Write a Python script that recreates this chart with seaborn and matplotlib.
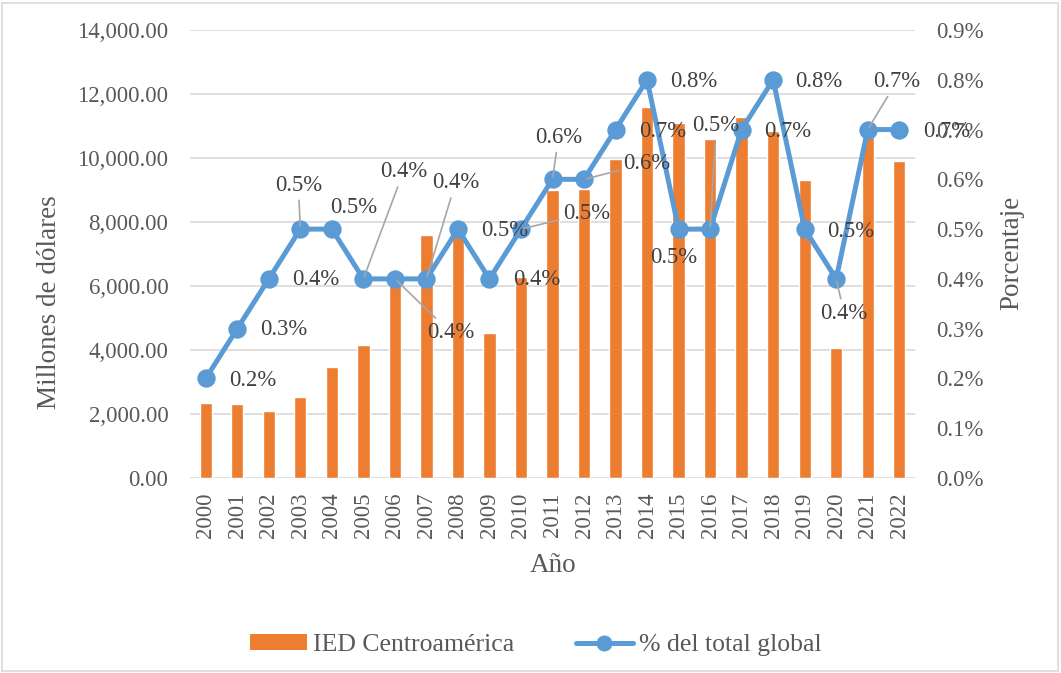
import matplotlib
matplotlib.use("Agg")
import matplotlib.pyplot as plt
import seaborn as sns
import pandas as pd
from matplotlib.patches import Patch, Rectangle
from matplotlib.lines import Line2D
from matplotlib.ticker import FuncFormatter, MultipleLocator

# ---------------- data ----------------
years = ["2000", "2001", "2002", "2003", "2004", "2005", "2006", "2007", "2008",
         "2009", "2010", "2011", "2012", "2013", "2014", "2015", "2016", "2017",
         "2018", "2019", "2020", "2021", "2022"]
ied_millones = [2353, 2312, 2083, 2521, 3458, 4146, 6062, 7604, 7560, 4542, 6292,
                9000, 9042, 9979, 11604, 11104, 10583, 11271, 10833, 9312, 4062,
                10667, 9896]
pct_global = [0.2, 0.3, 0.4, 0.5, 0.5, 0.4, 0.4, 0.4, 0.5, 0.4, 0.5, 0.6, 0.6,
              0.7, 0.8, 0.5, 0.5, 0.7, 0.8, 0.5, 0.4, 0.7, 0.7]
left_ticks = [0, 2000, 4000, 6000, 8000, 10000, 12000, 14000]
right_ticks = [0.0, 0.1, 0.2, 0.3, 0.4, 0.5, 0.6, 0.7, 0.8, 0.9]

# label placement (pixel offsets from each point) and leader-line flags
label_offsets = [(47, -2), (46, -1), (47, -1), (-2, 44), (22, 22), (40, 107),
                 (56, -54), (29, 96), (47, -1), (47, -1), (66, 16), (6, 42),
                 (63, 16), (47, -2), (47, -2), (-5, -28), (6, 104), (46, -2),
                 (46, -2), (46, -2), (8, -35), (29, 48), (47, -2)]
leader = [False, False, False, True, False, True, True, True, False, False, True,
          True, True, False, False, False, True, False, False, False, True, True,
          False]

df = pd.DataFrame({"year": years, "ied": ied_millones, "pct": pct_global})

# ---------------- style ----------------
sns.set_style("white")
plt.rcParams["font.family"] = ["Liberation Serif", "DejaVu Serif"]

ORANGE = "#ED7D31"
BLUE = "#5B9BD5"
TXT = "#595959"
LBL = "#404040"
GRID = "#D9D9D9"

fig = plt.figure(figsize=(10.61, 6.73), dpi=100)
ax = fig.add_axes([190 / 1061, 1 - 478 / 673, 725 / 1061, 448 / 673])
ax2 = ax.twinx()

sns.barplot(data=df, x="year", y="ied", color=ORANGE, saturation=1, width=0.39,
            ax=ax, zorder=2)
sns.pointplot(data=df, x="year", y="pct", color=BLUE, markers="o",
              linestyles="-", errorbar=None, ax=ax2, markersize=10.5,
              linewidth=3.6, zorder=3)

ax.set_xlim(-0.5, len(years) - 0.5)
ax.set_ylim(0, 14000)
ax2.set_ylim(0, 0.9)
ax.set_yticks(left_ticks)
ax2.set_yticks(right_ticks)
ax.yaxis.set_major_formatter(FuncFormatter(lambda v, p: f"{v:,.2f}"))
ax2.yaxis.set_major_formatter(FuncFormatter(lambda v, p: f"{v:.1f}%"))

ax.set_axisbelow(True)
ax.grid(axis="y", color=GRID, linewidth=1.2)
ax.grid(axis="x", visible=False)
ax2.grid(False)
for a in (ax, ax2):
    for s in a.spines.values():
        s.set_visible(False)
    a.set_xlabel("")
    a.set_ylabel("")

ax.tick_params(axis="y", length=0, labelsize=16.5, labelcolor=TXT, pad=15.5)
ax.tick_params(axis="x", length=0, labelsize=16.5, labelcolor=TXT, pad=10.5,
               labelrotation=90)
ax2.tick_params(axis="y", length=0, labelsize=16.5, labelcolor=TXT, pad=15)

# data labels
for i, (v, (dx, dy), ld) in enumerate(zip(pct_global, label_offsets, leader)):
    kw = {}
    if ld:
        kw["arrowprops"] = dict(arrowstyle="-", color="#A6A6A6", lw=1.2,
                                shrinkA=1, shrinkB=2)
    ax2.annotate(f"{v:.1f}%", xy=(i, v), xytext=(dx, dy),
                 textcoords="offset pixels", ha="center", va="center",
                 fontsize=16.3, color=LBL, zorder=5, **kw)

# axis titles
fig.text(50 / 1061, 1 - 302 / 673, "Millones de dólares", rotation=90,
         ha="center", va="center", fontsize=19.5, color=TXT)
fig.text(1012 / 1061, 1 - 253 / 673, "Porcentaje", rotation=90,
         ha="center", va="center", fontsize=19.5, color=TXT)
fig.text(553 / 1061, 1 - 566 / 673, "Año", ha="center", va="center",
         fontsize=19.5, color=TXT)

# legend
handles = [Patch(facecolor=ORANGE, edgecolor="none"),
           Line2D([0], [0], color=BLUE, lw=3.6, marker="o", markersize=10.5)]
leg = fig.legend(handles, ["IED Centroamérica", "% del total global"],
                 loc="center", bbox_to_anchor=(536 / 1061, 1 - 645 / 673),
                 ncol=2, frameon=False, fontsize=18.5, handlelength=2.2,
                 handletextpad=0.25, columnspacing=2.4, handleheight=0.6)
for t in leg.get_texts():
    t.set_color(TXT)

# outer border
fig.patches.append(Rectangle((2 / 1061, 2 / 673), 1 - 5 / 1061, 1 - 5 / 673,
                             transform=fig.transFigure, fill=False,
                             edgecolor=GRID, linewidth=1.2))

fig.savefig("out.png", dpi=100)
